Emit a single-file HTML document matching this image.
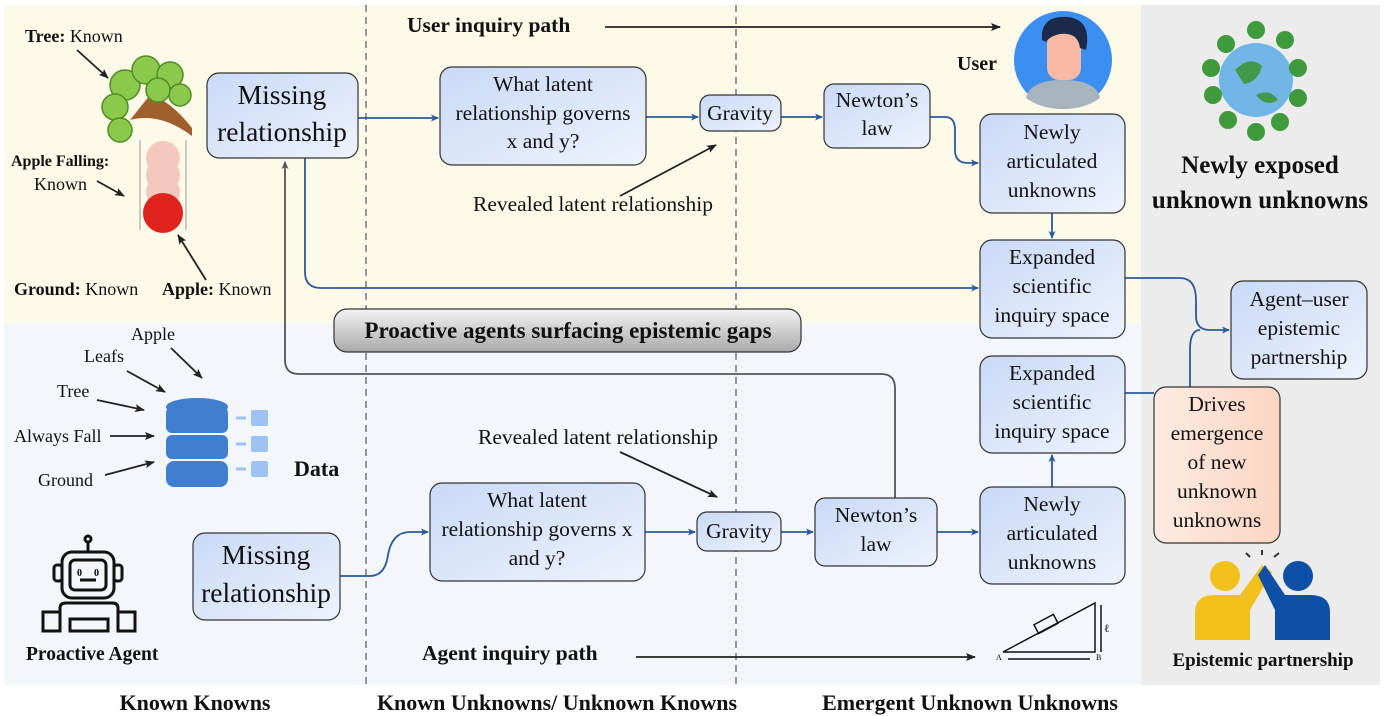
<!DOCTYPE html>
<html><head><meta charset="utf-8"><style>
html,body{margin:0;padding:0;background:#fff;}
svg{display:block;font-family:"Liberation Serif",serif;}
</style></head><body>
<svg width="1384" height="716" viewBox="0 0 1384 716" xmlns="http://www.w3.org/2000/svg">
<defs>
<linearGradient id="bx" x1="0" y1="0" x2="1" y2="1"><stop offset="0" stop-color="#c9d9f7"/><stop offset="1" stop-color="#eef3fd"/></linearGradient>
<linearGradient id="pe" x1="0" y1="0" x2="1" y2="0"><stop offset="0" stop-color="#fdebe3"/><stop offset="1" stop-color="#fcd6c2"/></linearGradient>
<linearGradient id="gr" x1="0" y1="0" x2="0" y2="1"><stop offset="0" stop-color="#f4f4f4"/><stop offset="1" stop-color="#a9a9a9"/></linearGradient>
<marker id="ab" markerWidth="8" markerHeight="8" refX="7" refY="4" orient="auto" markerUnits="userSpaceOnUse"><path d="M0,0.5 L8,4 L0,7.5 L2,4z" fill="#2a5a9a"/></marker>
<marker id="ak" markerWidth="10" markerHeight="10" refX="9" refY="5" orient="auto" markerUnits="userSpaceOnUse"><path d="M0,1 L10,5 L0,9 L2,5z" fill="#222"/></marker>
<marker id="ag" markerWidth="8" markerHeight="8" refX="7" refY="4" orient="auto" markerUnits="userSpaceOnUse"><path d="M0,0.5 L8,4 L0,7.5 L2,4z" fill="#555"/></marker>
</defs>
<rect x="4" y="5" width="1137" height="318" fill="#fdfaea"/>
<rect x="4" y="323" width="1137" height="362" fill="#f3f6fb"/>
<rect x="1141" y="5" width="239" height="680" fill="#ececec"/>
<line x1="366" y1="5" x2="366" y2="685" stroke="#777" stroke-width="1.5" stroke-dasharray="7,5"/>
<line x1="736" y1="5" x2="736" y2="685" stroke="#777" stroke-width="1.5" stroke-dasharray="7,5"/>

<g fill="none" stroke="#2a5a9a" stroke-width="1.8">
<path d="M358,118 H438" marker-end="url(#ab)"/>
<path d="M646,117 H698" marker-end="url(#ab)"/>
<path d="M781,117 H822" marker-end="url(#ab)"/>
<path d="M930,117 H945 Q955,117 955,130 V150 Q955,163 968,163 H978" marker-end="url(#ab)"/>
<path d="M1052,213 V238" marker-end="url(#ab)"/>
<path d="M305,158 V272 Q305,288 321,288 H978" marker-end="url(#ab)"/>
<path d="M1125,278 H1180 Q1196,278 1196,300 V316 Q1196,330 1210,330 H1229" marker-end="url(#ab)"/>
<path d="M1125,393 H1154 M1190,387 V350 Q1190,330 1200,330"/>
<path d="M1052,487 V455" marker-end="url(#ab)"/>
<path d="M937,532 H978" marker-end="url(#ab)"/>
<path d="M781,532 H813" marker-end="url(#ab)"/>
<path d="M645,532 H695" marker-end="url(#ab)"/>
<path d="M340,576 H370 Q385,576 388,555 Q392,532 410,532 H428" marker-end="url(#ab)"/>
</g>
<path d="M895,498 V388 Q895,374 881,374 H299 Q285,374 285,360 V162" fill="none" stroke="#555" stroke-width="1.8" marker-end="url(#ag)"/>

<g stroke="#333" stroke-width="1.2">
<rect x="207" y="73" width="151" height="85" rx="12" fill="url(#bx)"/>
<rect x="440" y="67" width="206" height="98" rx="12" fill="url(#bx)"/>
<rect x="700" y="95" width="81" height="36" rx="10" fill="url(#bx)"/>
<rect x="824" y="84" width="106" height="64" rx="10" fill="url(#bx)"/>
<rect x="980" y="114" width="145" height="99" rx="12" fill="url(#bx)"/>
<rect x="980" y="240" width="145" height="98" rx="12" fill="url(#bx)"/>
<rect x="1231" y="281" width="136" height="98" rx="12" fill="url(#bx)"/>
<rect x="980" y="356" width="145" height="97" rx="12" fill="url(#bx)"/>
<rect x="1154" y="387" width="126" height="156" rx="12" fill="url(#pe)"/>
<rect x="980" y="487" width="145" height="97" rx="12" fill="url(#bx)"/>
<rect x="815" y="498" width="122" height="68" rx="10" fill="url(#bx)"/>
<rect x="697" y="512" width="84" height="39" rx="10" fill="url(#bx)"/>
<rect x="430" y="483" width="215" height="98" rx="12" fill="url(#bx)"/>
<rect x="193" y="533" width="147" height="87" rx="12" fill="url(#bx)"/>
<rect x="334" y="309" width="467" height="43" rx="13" fill="url(#gr)"/>
</g>

<g font-size="21.5" fill="#111" text-anchor="middle">
<text x="282" y="104" font-size="27.5">Missing</text><text x="282" y="141" font-size="27.5">relationship</text>
<text x="543" y="91">What latent</text><text x="543" y="120">relationship governs</text><text x="543" y="148">x and y?</text>
<text x="740" y="120">Gravity</text>
<text x="877" y="107">Newton’s</text><text x="877" y="135">law</text>
<text x="1052" y="139">Newly</text><text x="1052" y="168">articulated</text><text x="1052" y="197">unknowns</text>
<text x="1052" y="264">Expanded</text><text x="1052" y="293">scientific</text><text x="1052" y="322">inquiry space</text>
<text x="1299" y="306">Agent–user</text><text x="1299" y="335">epistemic</text><text x="1299" y="364">partnership</text>
<text x="1052" y="380">Expanded</text><text x="1052" y="409">scientific</text><text x="1052" y="438">inquiry space</text>
<text x="1217" y="411">Drives</text><text x="1217" y="440">emergence</text><text x="1217" y="469">of new</text><text x="1217" y="498">unknown</text><text x="1217" y="527">unknowns</text>
<text x="1052" y="511">Newly</text><text x="1052" y="540">articulated</text><text x="1052" y="569">unknowns</text>
<text x="876" y="522">Newton’s</text><text x="876" y="551">law</text>
<text x="739" y="538">Gravity</text>
<text x="537" y="507">What latent</text><text x="537" y="536">relationship governs x</text><text x="537" y="565">and y?</text>
<text x="266" y="564" font-size="27.5">Missing</text><text x="266" y="602" font-size="27.5">relationship</text>
<text x="568" y="338" font-weight="bold" font-size="23">Proactive agents surfacing epistemic gaps</text>
</g>

<g font-size="21.5" fill="#111">
<text x="473" y="211">Revealed latent relationship</text>
<text x="478" y="444">Revealed latent relationship</text>
<text x="407" y="32" font-weight="bold" font-size="21.5">User  inquiry path</text>
<text x="422" y="660" font-weight="bold" font-size="21.5">Agent  inquiry path</text>
<text x="957" y="70" font-weight="bold" font-size="20">User</text>
<text x="294" y="476" font-weight="bold" font-size="22">Data</text>
<text x="26" y="660" font-weight="bold" font-size="19.5">Proactive Agent</text>
<text x="1263" y="666" font-weight="bold" font-size="19" text-anchor="middle">Epistemic partnership</text>
<text x="1260" y="173" font-weight="bold" font-size="25" text-anchor="middle">Newly exposed</text>
<text x="1260" y="208" font-weight="bold" font-size="25" text-anchor="middle">unknown unknowns</text>
<text x="195" y="710" font-weight="bold" font-size="22" text-anchor="middle">Known Knowns</text>
<text x="557" y="710" font-weight="bold" font-size="22" text-anchor="middle">Known Unknowns/ Unknown Knowns</text>
<text x="970" y="710" font-weight="bold" font-size="22" text-anchor="middle">Emergent Unknown Unknowns</text>
<text x="25" y="42" font-size="18"><tspan font-weight="bold">Tree:</tspan> Known</text>
<text x="11" y="166" font-size="16" font-weight="bold">Apple Falling:</text>
<text x="34" y="190" font-size="18">Known</text>
<text x="14" y="295" font-size="18"><tspan font-weight="bold">Ground:</tspan> Known</text>
<text x="162" y="295" font-size="18"><tspan font-weight="bold">Apple:</tspan> Known</text>
<text x="131" y="340" font-size="18">Apple</text>
<text x="84" y="362" font-size="18">Leafs</text>
<text x="57" y="397" font-size="18">Tree</text>
<text x="14" y="442" font-size="18">Always Fall</text>
<text x="38" y="486" font-size="18">Ground</text>
</g>
<g stroke="#222" stroke-width="1.8" fill="none">
<path d="M620,196 L716,145" marker-end="url(#ak)"/>
<path d="M620,452 L717,497" marker-end="url(#ak)"/>
<path d="M605,27 H1000" marker-end="url(#ak)"/>
<path d="M636,657 H975" marker-end="url(#ak)"/>
<path d="M77,50 L108,78" marker-end="url(#ak)"/>
<path d="M97,181 L124,196" marker-end="url(#ak)"/>
<path d="M206,280 L178,235" marker-end="url(#ak)"/>
<path d="M171,348 L202,378" marker-end="url(#ak)"/>
<path d="M127,371 L165,392" marker-end="url(#ak)"/>
<path d="M97,400 L144,410" marker-end="url(#ak)"/>
<path d="M110,436 H154" marker-end="url(#ak)"/>
<path d="M105,475 L154,462" marker-end="url(#ak)"/>
</g>

<path d="M130,120 Q160,112 192,136 L192,128 Q170,100 150,95 Z" fill="#a0602e"/>
<g fill="#8cc84b" stroke="#4d8f24" stroke-width="1.5">
<circle cx="125" cy="85" r="15"/><circle cx="146" cy="70" r="14"/><circle cx="170" cy="75" r="13"/><circle cx="115" cy="107" r="13"/><circle cx="120" cy="130" r="12"/><circle cx="180" cy="95" r="11"/><circle cx="158" cy="90" r="12"/>
</g>
<g fill="#f0a8a0" opacity="0.6"><circle cx="163" cy="158" r="17"/><circle cx="163" cy="175" r="17"/><circle cx="163" cy="192" r="17"/></g>
<circle cx="163" cy="213" r="20" fill="#e0231d"/>
<line x1="140" y1="140" x2="140" y2="230" stroke="#999"/><line x1="186" y1="140" x2="186" y2="230" stroke="#999"/>

<g fill="#3f7fcf">
<ellipse cx="197" cy="407" rx="31" ry="9"/>
<rect x="166" y="407" width="62" height="26" rx="6"/><rect x="166" y="435" width="62" height="24" rx="6"/><rect x="166" y="461" width="62" height="26" rx="8"/>
</g>
<g fill="#9ec3f2"><rect x="251" y="410" width="17" height="16" rx="2"/><rect x="251" y="436" width="17" height="16" rx="2"/><rect x="251" y="461" width="17" height="16" rx="2"/>
<path d="M236,418h10M236,444h10M236,469h10" stroke="#9ec3f2" stroke-width="3"/></g>

<g fill="none" stroke="#111" stroke-width="3">
<circle cx="88" cy="539" r="3"/><path d="M88,542 V551"/>
<rect x="62" y="552" width="52" height="46" rx="10"/><rect x="70" y="560" width="36" height="30" rx="5"/>
<rect x="54" y="565" width="8" height="16" rx="3"/><rect x="114" y="565" width="8" height="16" rx="3"/>
<path d="M60,631 V608 Q60,603 66,603 H112 Q118,603 118,608 V631"/>
<rect x="43" y="612" width="17" height="19"/><rect x="118" y="612" width="17" height="19"/>
<rect x="70" y="619" width="38" height="12"/><path d="M80,580 H96"/>
</g>
<text x="77" y="576" font-size="10" font-weight="bold">0</text><text x="94" y="576" font-size="10" font-weight="bold">0</text>

<circle cx="1063" cy="60" r="49" fill="#3b8ff0"/>
<path d="M1026,98 Q1030,80 1063,80 Q1096,80 1100,98 Q1085,109 1063,109 Q1041,109 1026,98Z" fill="#a7b3bd"/>
<rect x="1047" y="32" width="34" height="48" rx="12" fill="#f7b8a6"/>
<path d="M1042,40 Q1040,15 1068,17 Q1092,20 1086,50 L1080,48 Q1078,32 1060,34 Q1050,36 1046,42Z" fill="#1a2a48"/>

<circle cx="1256" cy="80" r="37" fill="#6fb6e6"/>
<path d="M1235,70 Q1250,55 1262,66 Q1258,82 1244,84Z M1256,95 Q1270,88 1278,100 Q1266,108 1256,95Z" fill="#3e9a46"/>
<g fill="#3f9a3c"><circle cx="1256" cy="30" r="9"/><circle cx="1285" cy="40" r="9"/><circle cx="1298" cy="68" r="9"/><circle cx="1298" cy="98" r="9"/><circle cx="1280" cy="122" r="9"/><circle cx="1256" cy="132" r="9"/><circle cx="1228" cy="120" r="9"/><circle cx="1213" cy="95" r="9"/><circle cx="1211" cy="68" r="9"/><circle cx="1226" cy="44" r="9"/></g>

<g stroke="#111" stroke-width="1.5" fill="none">
<path d="M1003,652 L1095,603 V652 Z"/><path d="M1008,659 H1090"/><path d="M1101,605 V652"/>
<rect x="1035" y="619" width="22" height="10" transform="rotate(-28 1046 624)"/>
</g>
<text x="996" y="660" font-size="8">A</text><text x="1096" y="660" font-size="8">B</text><text x="1104" y="632" font-size="11">ℓ</text>

<g fill="#f2c01b"><circle cx="1225" cy="576" r="15"/><path d="M1195,640 V612 Q1195,595 1215,595 H1240 L1262,565 L1272,572 L1250,610 V640Z"/></g>
<g fill="#0e4fa8"><circle cx="1298" cy="576" r="15"/><path d="M1330,640 V612 Q1330,595 1310,595 H1285 L1265,565 L1258,575 L1275,610 V640Z"/></g>
<path d="M1262,555 V550 M1250,557 L1246,553 M1274,557 L1279,553" stroke="#333" stroke-width="2"/>
</svg>
</body></html>
